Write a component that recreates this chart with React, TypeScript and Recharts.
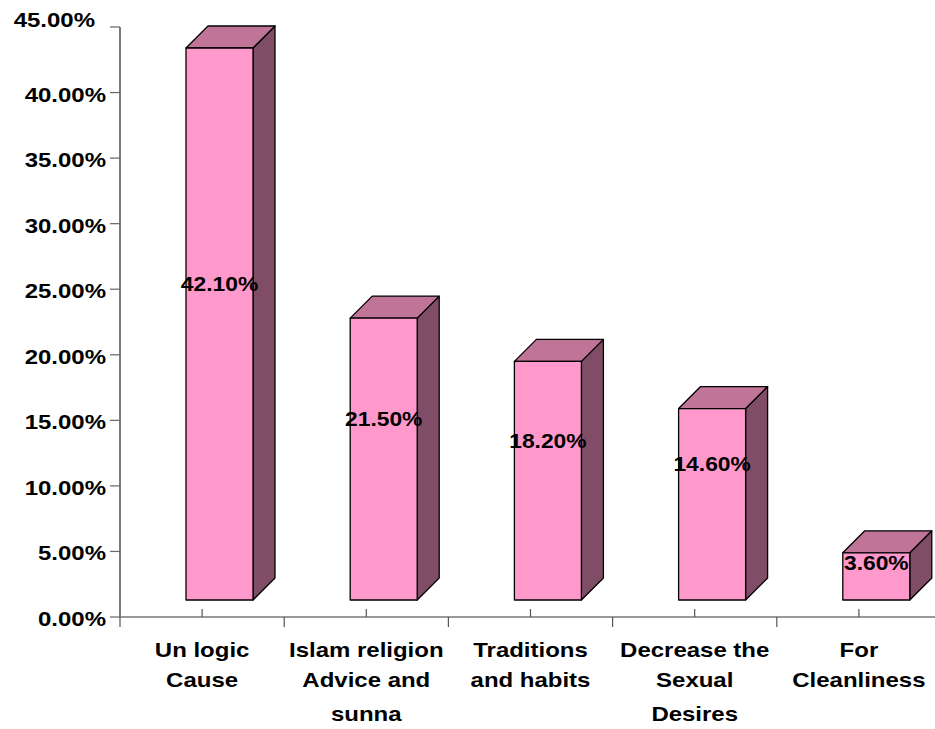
import React from "react";
import { BarChart, Bar, XAxis, YAxis, LabelList } from "recharts";

const categories = [
  "Un logic\nCause",
  "Islam religion\nAdvice and\nsunna",
  "Traditions\nand habits",
  "Decrease the\nSexual\nDesires",
  "For\nCleanliness",
];
const values = [42.1, 21.5, 18.2, 14.6, 3.6];
const yTicks = [0, 5, 10, 15, 20, 25, 30, 35, 40, 45];

const data = categories.map((name, i) => ({ name, value: values[i] }));

const W = 945;
const H = 729;
const MARGIN = { top: 27, right: 4, bottom: 0, left: 0 };
const Y_AXIS_W = 120;
const BAND = (W - Y_AXIS_W - MARGIN.left - MARGIN.right) / categories.length;

// fake 3D: front face lifted/shifted by LIFT, depth drawn with DEPTH
const LIFT = 17;
const DEPTH = 22;
const FONT = "'Liberation Sans', Arial, sans-serif";
const STRETCH = 1.17;

const FRONT = "#FF99CC";
const TOP = "#C07498";
const SIDE = "#804D66";

const fmt = (v: number) => `${v.toFixed(2)}%`;

function Box3D(props: any) {
  const { x, y, width, height } = props;
  const fx = x + LIFT;
  const ft = y - LIFT;
  const fb = y + height - LIFT;
  const fr = fx + width;
  const top = `${fx},${ft} ${fx + DEPTH},${ft - DEPTH} ${fr + DEPTH},${ft - DEPTH} ${fr},${ft}`;
  const side = `${fr},${ft} ${fr + DEPTH},${ft - DEPTH} ${fr + DEPTH},${fb - DEPTH} ${fr},${fb}`;
  return (
    <g stroke="#000" strokeWidth={1.3} strokeLinejoin="round">
      <polygon points={side} fill={SIDE} />
      <polygon points={top} fill={TOP} />
      <rect x={fx} y={ft} width={width} height={fb - ft} fill={FRONT} />
    </g>
  );
}

function ValueLabel(props: any) {
  const { x, y, width, height, value } = props;
  const ft = y - LIFT;
  const fb = y + height - LIFT;
  const cx = x + LIFT + width / 2;
  const cy = Math.max((ft + fb) / 2 - 40, ft + 10);
  return (
    <text
      transform={`translate(${cx}, ${cy + 7}) scale(${STRETCH}, 1)`}
      textAnchor="middle"
      fontFamily={FONT}
      fontWeight="bold"
      fontSize={19.5}
      fill="#000"
    >
      {fmt(value)}
    </text>
  );
}

function CategoryTick(props: any) {
  const { x, y, payload } = props;
  const lines = String(payload.value).split("\n");
  const offsets = [39.5, 69.5, 104];
  return (
    <g>
      <line x1={x} y1={y - 8} x2={x} y2={y} stroke="#555" strokeWidth={1.2} />
      <line x1={x - BAND / 2} y1={y} x2={x - BAND / 2} y2={y + 10} stroke="#555" strokeWidth={1.2} />
      {lines.map((t, i) => (
        <text
          key={i}
          transform={`translate(${x}, ${y + offsets[i]}) scale(${STRETCH}, 1)`}
          textAnchor="middle"
          fontFamily={FONT}
          fontWeight="bold"
          fontSize={20.5}
          fill="#000"
        >
          {t}
        </text>
      ))}
    </g>
  );
}

function PercentTick(props: any) {
  const { y, payload, index } = props;
  const isTop = index === yTicks.length - 1;
  const tx = isTop ? 95 : 106;
  const ty = isTop ? y : y + 9;
  return (
    <text
      transform={`translate(${tx}, ${ty}) scale(${STRETCH}, 1)`}
      textAnchor="end"
      fontFamily={FONT}
      fontWeight="bold"
      fontSize={20.5}
      fill="#000"
    >
      {fmt(payload.value)}
    </text>
  );
}

export default function App() {
  return (
    <div
      style={{
        position: "absolute",
        left: 0,
        top: 0,
        width: 935,
        height: 729,
        overflow: "hidden",
        background: "#fff",
      }}
    >
      <BarChart width={W} height={H} data={data} margin={MARGIN}>
        <YAxis
          width={Y_AXIS_W}
          domain={[0, 45]}
          ticks={yTicks}
          interval={0}
          axisLine={{ stroke: "#333", strokeWidth: 1.3 }}
          tickLine={{ stroke: "#666", strokeWidth: 1.2 }}
          tickSize={10}
          tick={<PercentTick />}
        />
        <XAxis
          dataKey="name"
          height={112}
          interval={0}
          tickSize={0}
          tickMargin={0}
          tickLine={false}
          axisLine={{ stroke: "#777", strokeWidth: 1.3 }}
          tick={<CategoryTick />}
        />
        <Bar dataKey="value" barSize={67} shape={<Box3D />} isAnimationActive={false}>
          <LabelList dataKey="value" content={<ValueLabel />} />
        </Bar>
      </BarChart>
    </div>
  );
}
